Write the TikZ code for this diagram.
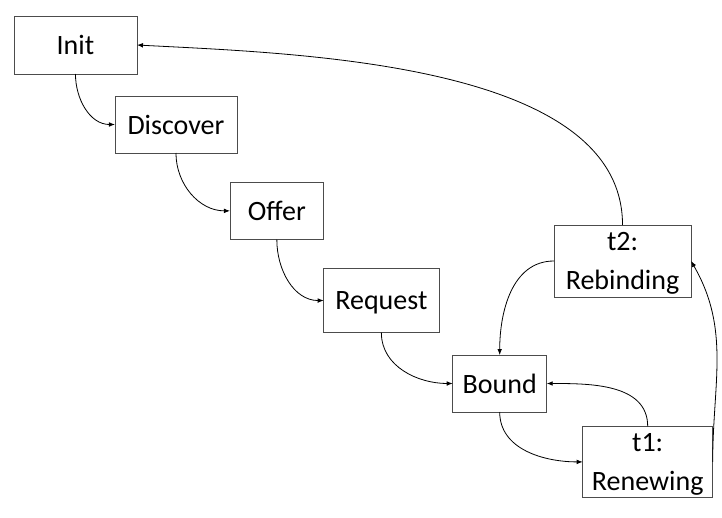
\documentclass[tikz,border=0pt]{standalone}
\usepackage{fontspec}
\setmainfont{Carlito}
\usetikzlibrary{arrows.meta,positioning}
\tikzset{
    %Define standard arrow tip
    >={Latex[length=4.5pt,width=3.5pt]},
    %Define style for states
    stbox/.style={
           rectangle,
           draw=black!70, line width=0.7pt,
           inner sep=0pt, outer sep=0pt,
           align=center, text depth=0pt,
           font=\fontsize{21}{29}\selectfont},
    % Define arrow style
    pil/.style={
           ->,
           line width=0.6pt}
}
\begin{document}
\begin{tikzpicture}
\useasboundingbox (0,0) rectangle (541.5pt,-388.5pt);
%Nodes
\node[stbox, minimum width=92.25pt, minimum height=43.5pt] (init) at (56.6pt,-33.75pt) {Init};
\node[stbox, minimum width=91.5pt, minimum height=42.75pt] (discover) [below right=16.5pt and -16.5pt of init] {Discover};
\node[stbox, minimum width=70.3pt, minimum height=43.3pt] (offer) [below right=21.75pt and -5.25pt of discover] {Offer};
\node[stbox, minimum width=86.5pt, minimum height=48.2pt] (request) [below right=21.5pt and 0pt of offer] {Request};
\node[stbox, minimum width=70.5pt, minimum height=42.75pt] (bound) [below right=16.75pt and 10.25pt of request] {Bound};
\node[stbox, minimum width=97.5pt, minimum height=53.25pt] (renew) [below right=10.8pt and 27pt of bound] {t1:\\Renewing};
\node[stbox, minimum width=102.75pt, minimum height=54pt] (rebind) [above right=43.5pt and 5.5pt of bound] {t2:\\Rebinding};
%Edges
\draw[pil] (init.south) to[out=-90, in=180] (discover.west);
\draw[pil] (discover.south) to[out=-90, in=180] (offer.west);
\draw[pil] (offer.south) to[out=-90, in=180] (request.west);
\draw[pil] (request.south) to[out=-90, in=180] (bound.west);
\draw[pil] (bound.south) to[out=-90, in=180] (renew.west);
\draw[pil] (renew.north) to[out=90, in=0] (bound.east);
\draw[pil] (renew.east) to[out=90, in=-60] (rebind.east);
\draw[pil] (rebind.west) to[out=180, in=90] (bound.north);
\draw[pil] (rebind.north) to[out=90, in=-3, looseness=0.8] (init.east);
\end{tikzpicture}
\end{document}
